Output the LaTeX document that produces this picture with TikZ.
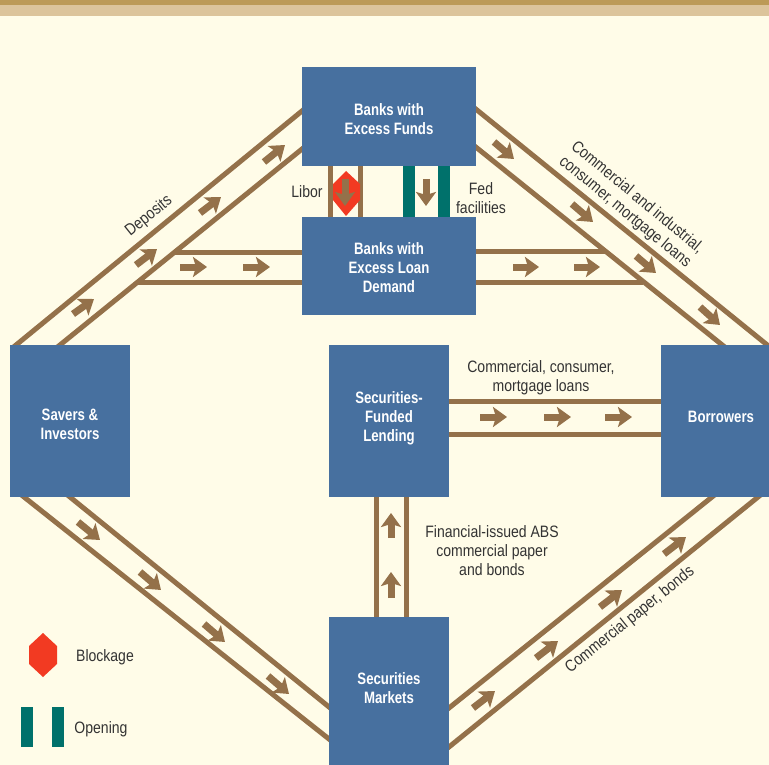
\documentclass[tikz,border=0pt]{standalone}
\usepackage{fontspec}
\setmainfont[FakeStretch=0.85, BoldFeatures={FakeStretch=0.8}]{Liberation Sans}
\usetikzlibrary{arrows.meta}
\definecolor{paper}{HTML}{FFFCE8}
\definecolor{bandtop}{HTML}{BC9A57}
\definecolor{bandlow}{HTML}{DCC49B}
\definecolor{rail}{HTML}{94714A}
\definecolor{boxblue}{HTML}{47709F}
\definecolor{blockred}{HTML}{F23A22}
\definecolor{openteal}{HTML}{00716B}
\definecolor{inktext}{HTML}{333333}
\tikzset{
    railline/.style={rail, line width=5pt},
    flowarrow/.style={rail, line width=7pt, -{Stealth[length=14pt, width=20pt, inset=3pt]}},
    sector/.style={fill=boxblue, text=white, align=center, inner sep=0pt,
        font=\fontsize{16.5}{19}\selectfont\bfseries},
    caption/.style={text=inktext, align=center, inner sep=0pt,
        font=\fontsize{16.5}{19}\selectfont},
    blockage/.style={fill=blockred},
    opening/.style={fill=openteal}
}
\begin{document}
\begin{tikzpicture}[x=1pt, y=-1pt]
    \useasboundingbox (0, 0) rectangle (769, 765);
    \clip (0, 0) rectangle (769, 765);
    \fill[paper] (0, 0) rectangle (769, 765);
    \fill[bandtop] (0, 0) rectangle (769, 5);
    \fill[bandlow] (0, 5) rectangle (769, 16);

    % rail ends
    \coordinate (sdo) at (12, 348.3);
    \coordinate (sdi) at (56, 348.2);
    \coordinate (fdo) at (306, 107.7);
    \coordinate (fdi) at (306, 145.8);
    \coordinate (bra) at (173, 252);
    \coordinate (brb) at (137, 282);
    \coordinate (dla) at (306, 252);
    \coordinate (dlb) at (306, 282);
    \coordinate (fro) at (472, 106);
    \coordinate (fri) at (472, 144);
    \coordinate (bwo) at (771, 348);
    \coordinate (bwi) at (726, 348);
    \coordinate (dra) at (472, 251);
    \coordinate (drb) at (472, 282);
    \coordinate (bca) at (605, 251);
    \coordinate (bcb) at (643, 282);
    \coordinate (slo) at (20, 493.8);
    \coordinate (sli) at (66, 493.8);
    \coordinate (mlo) at (333, 742.2);
    \coordinate (mli) at (333, 710.2);
    \coordinate (mri) at (445, 711.2);
    \coordinate (mro) at (445, 750.2);
    \coordinate (bri) at (716, 493.8);
    \coordinate (bro) at (762, 493.8);
    \coordinate (lca) at (445, 401);
    \coordinate (lcb) at (445, 434);
    \coordinate (bba) at (665, 401);
    \coordinate (bbb) at (665, 434);
    \coordinate (lua) at (376, 493);
    \coordinate (lub) at (406, 493);
    \coordinate (mua) at (376, 621);
    \coordinate (mub) at (406, 621);
    \coordinate (lba) at (330.5, 162);
    \coordinate (lbb) at (360.5, 162);
    \coordinate (lda) at (330.5, 221);
    \coordinate (ldb) at (360.5, 221);

    \foreach \from/\to in {sdo/fdo, sdi/fdi, bra/dla, brb/dlb, fro/bwo, fri/bwi,
        dra/bca, drb/bcb, slo/mlo, sli/mli, mri/bri, mro/bro, lca/bba, lcb/bbb,
        lua/mua, lub/mub, lba/lda, lbb/ldb}
        \draw[railline] (\from) -- (\to);

    % blockage on the libor rails
    \fill[blockage] (346, 171) -- (360, 184) -- (360, 200) -- (346, 216) -- (333, 200) -- (333, 184) -- cycle;

    % opening on the fed rails
    \fill[opening] (403, 166) rectangle (415, 217);
    \fill[opening] (438, 166) rectangle (450, 217);

    \foreach \xa/\ya/\xb/\yb in {
        73/314/94/299, 136/265/157/249, 200/213/221/197, 264/162/285/145,
        180/267/207/267, 243/267/270/267,
        494/142/514/159, 572/204/593/222, 636/256/656/273, 700/307/720/325,
        513/267/539/267, 574/267/600/267,
        480/417/507/417, 544/417/571/417, 605/417/632/417,
        391/538/391/513, 391/598/391/572,
        78/522/100/540, 140/572/161/590, 204/624/225/642, 268/676/289/694,
        473/708/495/691, 536/658/558/641, 600/607/622/590, 664/554/686/537,
        345/179/345/206, 426/179/426/206}
        \draw[flowarrow] (\xa, \ya) -- (\xb, \yb);

    % sectors
    \node[sector, minimum width=174pt, minimum height=99pt] (funds) at (389, 116.5) {\mbox{}\\[-2pt]Banks with\\Excess Funds};
    \node[sector, minimum width=174pt, minimum height=98pt] (demand) at (389, 266) {\mbox{}\\[-4pt]Banks with\\Excess Loan\\Demand};
    \node[sector, minimum width=120pt, minimum height=152pt] (savers) at (70, 421) {\mbox{}\\[0pt]Savers \&\\Investors};
    \node[sector, minimum width=120pt, minimum height=152pt] (lending) at (389, 421) {Securities-\\Funded\\Lending\\[-11pt]};
    \node[sector, minimum width=120pt, minimum height=152pt] (borrowers) at (721, 421) {Borrowers\\[-11pt]};
    \node[sector, minimum width=120pt, minimum height=148pt] (markets) at (389, 691) {Securities\\Markets\\[-14pt]};

    % labels
    \node[caption, rotate=38.7] (deposits) at (149, 216) {Deposits};
    \node[caption, rotate=-39.5] (loans) at (631, 205) {Commercial and industrial,\\consumer, mortgage loans};
    \node[caption, rotate=38.7] (paper) at (630, 620) {Commercial paper, bonds};
    \node[caption] (libor) at (307, 192) {Libor};
    \node[caption] (fed) at (481, 198) {Fed\\facilities};
    \node[caption] (retail) at (541, 378) {Commercial, consumer,\\mortgage loans};
    \node[caption] (abs) at (492, 551) {Financial-issued ABS\\commercial paper\\and bonds};

    % key
    \fill[blockage] (43, 633) -- (57, 646) -- (57, 664) -- (43, 677) -- (29, 664) -- (29, 646) -- cycle;
    \fill[opening] (21, 707) rectangle (33, 747);
    \fill[opening] (52, 707) rectangle (64, 747);
    \node[caption] (blockkey) at (105, 657) {Blockage};
    \node[caption] (openkey) at (101, 729) {Opening};
\end{tikzpicture}
\end{document}
